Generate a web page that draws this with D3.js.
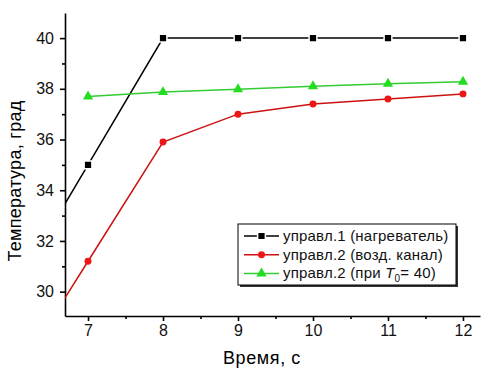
<!DOCTYPE html>
<html>
<head>
<meta charset="utf-8">
<script src="https://cdn.jsdelivr.net/npm/d3@7"></script>
<style>
  body { margin: 0; background: #fff; }
  text { font-family: "Liberation Sans", Arial, sans-serif; }
</style>
</head>
<body>
<div id="chart"></div>
<script>
// time, s (the point at 6 lies left of the visible axis, only its segment shows)
const times = [6, 7, 8, 9, 10, 11, 12];
const heater = [30, 35, 40, 40, 40, 40, 40];
const airChannel = [26.5, 31.2, 35.9, 37.0, 37.4, 37.6, 37.8];
const atT40 = [null, 37.7, 37.87, 37.98, 38.1, 38.2, 38.28];
const xTicks = [7, 8, 9, 10, 11, 12];
const yTicks = [30, 32, 34, 36, 38, 40];
const labels = ["управл.1 (нагреватель)", "управл.2 (возд. канал)", "управл.2 (при "];

const width = 485, height = 381;
const margin = { left: 65, top: 13, right: 5, bottom: 65 };

const svg = d3.select("#chart").append("svg")
  .attr("width", width).attr("height", height);

const x = d3.scaleLinear().domain([6.693, 12.227])
  .range([margin.left, width - margin.right]);
const y = d3.scaleLinear().domain([29.04, 40.99])
  .range([height - margin.bottom, margin.top]);

svg.append("clipPath").attr("id", "plot")
  .append("rect")
  .attr("x", margin.left).attr("y", margin.top)
  .attr("width", width - margin.right - margin.left)
  .attr("height", height - margin.bottom - margin.top);

// axes
svg.append("g")
  .attr("transform", `translate(0,${height - margin.bottom})`)
  .call(d3.axisBottom(x).tickValues(xTicks).tickFormat(d3.format("d")).tickSize(5).tickPadding(4).tickSizeOuter(0));
svg.append("g")
  .attr("transform", `translate(0,${height - margin.bottom})`)
  .call(d3.axisBottom(x).tickValues([7.5, 8.5, 9.5, 10.5, 11.5]).tickFormat("").tickSize(3).tickSizeOuter(0))
  .select(".domain").remove();

svg.append("g")
  .attr("transform", `translate(${margin.left},0)`)
  .call(d3.axisLeft(y).tickValues(yTicks).tickFormat(d3.format("d")).tickSize(5).tickPadding(6).tickSizeOuter(0));
svg.append("g")
  .attr("transform", `translate(${margin.left},0)`)
  .call(d3.axisLeft(y).tickValues([31, 33, 35, 37, 39]).tickFormat("").tickSize(3).tickSizeOuter(0))
  .select(".domain").remove();

svg.selectAll(".domain, .tick line").attr("stroke", "#000").attr("stroke-width", 1.6);
svg.selectAll(".tick text").attr("font-size", 16).attr("fill", "#111");

// axis titles
svg.append("text")
  .attr("transform", `translate(21,181) rotate(-90)`)
  .attr("text-anchor", "middle")
  .attr("font-size", 18)
  .attr("letter-spacing", 0.3)
  .text("Температура, град");
svg.append("text")
  .attr("x", 262).attr("y", 364)
  .attr("text-anchor", "middle")
  .attr("font-size", 18)
  .attr("letter-spacing", 0.6)
  .text("Время, с");

// series
const series = [
  { values: heater, line: "#000", fill: "#000", shape: d3.symbolSquare, size: 60 },
  { values: airChannel, line: "#cc1111", fill: "#ee1515", shape: d3.symbolCircle, size: 38 },
  { values: atT40, line: "#33cc33", fill: "#22dd22", shape: d3.symbolTriangle, size: 46 }
];

const plot = svg.append("g").attr("clip-path", "url(#plot)");
const line = d3.line()
  .defined(d => d[1] != null)
  .x(d => x(d[0])).y(d => y(d[1]));

series.forEach(s => {
  const pts = times.map((t, i) => [t, s.values[i]]);
  plot.append("path")
    .attr("d", line(pts))
    .attr("fill", "none")
    .attr("stroke", s.line)
    .attr("stroke-width", 1.5);
  plot.selectAll(null)
    .data(pts.filter(p => p[1] != null))
    .join("path")
    .attr("transform", p => `translate(${x(p[0])},${y(p[1])})`)
    .attr("d", d3.symbol().type(s.shape).size(s.size))
    .attr("fill", s.fill)
    .attr("stroke", "#fff")
    .attr("stroke-width", s.shape === d3.symbolSquare ? 1.5 : 0);
});

// legend
const lg = svg.append("g").attr("transform", "translate(238,224)");
lg.append("rect").attr("x", 2).attr("y", 2).attr("width", 218).attr("height", 61).attr("fill", "#333");
lg.append("rect").attr("width", 218).attr("height", 61).attr("fill", "#fff").attr("stroke", "#000").attr("stroke-width", 1);

series.forEach((s, i) => {
  const ry = 12 + i * 18.7;
  lg.append("line")
    .attr("x1", 6).attr("x2", 41).attr("y1", ry).attr("y2", ry)
    .attr("stroke", s.line).attr("stroke-width", 1.5);
  lg.append("path")
    .attr("transform", `translate(23.5,${ry})`)
    .attr("d", d3.symbol().type(s.shape).size(s.size))
    .attr("fill", s.fill)
    .attr("stroke", "#fff")
    .attr("stroke-width", s.shape === d3.symbolSquare ? 1.5 : 0);
  const t = lg.append("text")
    .attr("x", 45).attr("y", ry + 5)
    .attr("font-size", 15)
    .attr("letter-spacing", 0.2)
    .attr("fill", "#111")
    .text(labels[i]);
  if (i === 2) {
    t.append("tspan").attr("font-style", "italic").text("T");
    t.append("tspan").attr("font-size", 10).attr("dy", 4).text("0");
    t.append("tspan").attr("dy", -4).text("= 40)");
  }
});
</script>
</body>
</html>
